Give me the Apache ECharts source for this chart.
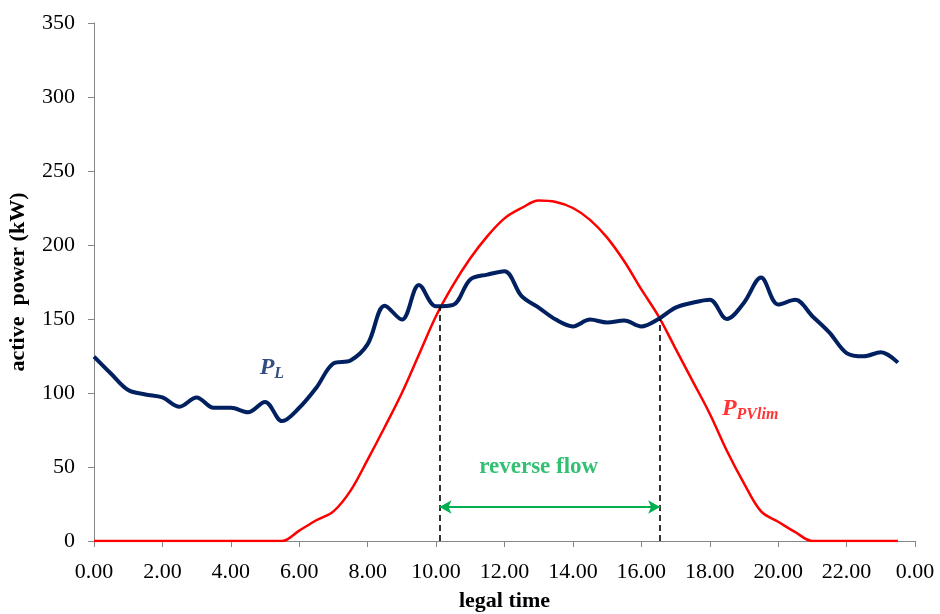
<!DOCTYPE html>
<html>
<head>
<meta charset="utf-8">
<script src="https://cdn.jsdelivr.net/npm/echarts@6/dist/echarts.min.js"></script>
<style>
html,body{margin:0;padding:0;background:#fff;}
#chart{width:940px;height:614px;}
</style>
</head>
<body>
<div id="chart"></div>
<script>
// Time of day (hours), 30-min steps
var hours = [0,0.5,1,1.5,2,2.5,3,3.5,4,4.5,5,5.5,6,6.5,7,7.5,8,8.5,9,9.5,10,10.5,11,11.5,12,12.5,13,13.5,14,14.5,15,15.5,16,16.5,17,17.5,18,18.5,19,19.5,20,20.5,21,21.5,22,22.5,23,23.5];
// Load active power P_L (kW)
var loadPL = [124.6,113,102,99,97,90.7,97,90,90,87,94,81,90,103.6,120,122,133,159,149.6,173,158.6,159.6,176.7,180,182.3,165.4,157.7,149.6,145,149.6,147.6,149,145,150,157.7,161,163,150,161,178,159.8,163,151.9,140.8,127,124.8,127.5,120.5];
// PV limit P_PVlim (kW)
var pvLim = [0,0,0,0,0,0,0,0,0,0,0,0,7,14,20,34,55,77,100,126,152,173,191,206,218,225,230,229,225,217,205,189,170,152,130,108,86,61,39,20,13,6,0,0,0,0,0,0];
// Crossing points (hour, kW) where reverse flow starts/ends
var crossHours = [10.1, 16.55];
var crossValues = [158.6, 150];
var arrowLevel = 23;
// Axis scale settings
var yMin = 0, yMax = 350, yStep = 50;
var xMin = 0, xMax = 24, xStep = 2;

function pairs(xs, ys){ return xs.map(function(x,i){ return [x, ys[i]]; }); }

var serif = '"Liberation Serif","Times New Roman",serif';
var chart = echarts.init(document.getElementById('chart'), null, {renderer:'canvas'});

var dashLines = crossHours.map(function(h,i){
  return [{coord:[h,0]},{coord:[h,crossValues[i]]}];
});

chart.setOption({
  animation:false,
  backgroundColor:'#fff',
  grid:{left:94,right:25,top:23,bottom:73,containLabel:false,outerBoundsMode:'none'},
  xAxis:{
    type:'value', min:xMin, max:xMax, interval:xStep,
    name:'legal time', nameLocation:'middle', nameGap:49,
    nameTextStyle:{fontFamily:serif,fontSize:22,fontWeight:'bold',color:'#000'},
    axisLine:{show:true,lineStyle:{color:'#868686',width:1}},
    axisTick:{show:true,length:6,lineStyle:{color:'#868686'}},
    axisLabel:{fontFamily:serif,fontSize:22,color:'#000',margin:20,showMaxLabel:true,showMinLabel:true,
      formatter:function(v){ return (v%24).toFixed(2); }},
    splitLine:{show:false}
  },
  yAxis:{
    type:'value', min:yMin, max:yMax, interval:yStep,
    name:'active  power (kW)', nameLocation:'middle', nameGap:65, nameRotate:90,
    nameTextStyle:{fontFamily:serif,fontSize:22,fontWeight:'bold',color:'#000'},
    axisLine:{show:true,lineStyle:{color:'#868686',width:1}},
    axisTick:{show:true,length:6,lineStyle:{color:'#868686'}},
    axisLabel:{fontFamily:serif,fontSize:22,color:'#000',margin:19},
    splitLine:{show:false}
  },
  series:[
    {
      name:'PPVlim', type:'line', data:pairs(hours,pvLim), smooth:0.35,
      symbol:'none', lineStyle:{color:'#FF0000',width:2.5}, z:3
    },
    {
      name:'PL', type:'line', data:pairs(hours,loadPL), smooth:0.35,
      symbol:'none', lineStyle:{color:'#002060',width:4}, z:4,
      markLine:{
        silent:true, symbol:'none',
        label:{show:false},
        lineStyle:{color:'#000',type:[6,4],width:1.6},
        data:dashLines
      }
    },
    {
      name:'arrow', type:'line', data:[], symbol:'none',
      markLine:{
        silent:true, symbol:['arrow','arrow'], symbolSize:[10,12],
        label:{show:false},
        lineStyle:{color:'#00B050',type:'solid',width:2},
        data:[[{coord:[crossHours[0],arrowLevel]},{coord:[crossHours[1],arrowLevel]}]]
      }
    },
    {
      name:'labels', type:'scatter', symbolSize:0, z:5, silent:true,
      data:[
        {value:[5.2,117], label:{show:true,position:'inside',formatter:'{p|P}{s|L}',
          rich:{p:{fontFamily:serif,fontSize:24,fontWeight:'bold',fontStyle:'italic',color:'#002060',lineHeight:28},
                s:{fontFamily:serif,fontSize:16,fontWeight:'bold',fontStyle:'italic',color:'#002060',verticalAlign:'bottom',lineHeight:16}}}},
        {value:[19.18,89], label:{show:true,position:'inside',formatter:'{p|P}{s|PVlim}',
          rich:{p:{fontFamily:serif,fontSize:24,fontWeight:'bold',fontStyle:'italic',color:'#FF0000',lineHeight:28},
                s:{fontFamily:serif,fontSize:16,fontWeight:'bold',fontStyle:'italic',color:'#FF0000',verticalAlign:'bottom',lineHeight:16}}}},
        {value:[13.0,50], label:{show:true,position:'inside',formatter:'reverse flow',
          fontFamily:serif,fontSize:23,fontWeight:'bold',color:'#00B050'}}
      ]
    }
  ]
});
</script>
</body>
</html>
